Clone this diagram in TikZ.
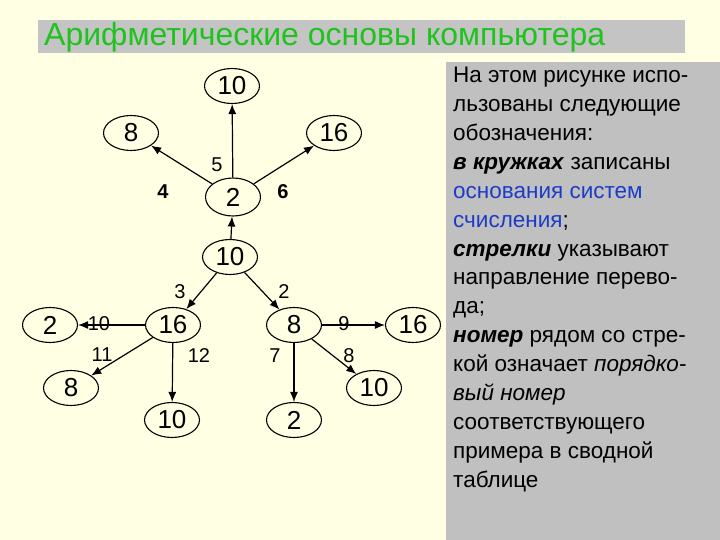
\documentclass[tikz,border=0pt]{standalone}
\usepackage{fontspec}
\setmainfont{Liberation Sans}
\usetikzlibrary{shapes.geometric,arrows.meta}
\definecolor{bgyellow}{HTML}{FFFFE3}
\definecolor{panelgray}{HTML}{C0C0C0}
\definecolor{titlegray}{HTML}{C4C4C4}
\definecolor{titlegreen}{HTML}{1EC31E}
\definecolor{basisblue}{HTML}{1C3CC8}
\tikzset{
  >={Latex[length=10pt,width=8pt]},
  base/.style={ellipse,draw,line width=1.1pt,minimum width=55pt,minimum height=35pt,
    inner sep=0pt,font=\fontsize{26}{26}\selectfont},
  num/.style={inner sep=0pt,font=\fontsize{20}{20}\selectfont},
}

\begin{document}
\begin{tikzpicture}[x=1pt,y=-1pt]
    % page and panels
    \fill[bgyellow] (0,0) rectangle (720,540);
    \useasboundingbox (0,0) rectangle (720,540);
    \fill[titlegray] (38,20) rectangle (685,53);
    \fill[panelgray] (446,62) rectangle (720,540);
    \node[anchor=base west,inner sep=0pt,text=titlegreen,font=\fontsize{32}{32}\selectfont]
      (title) at (44,46) {Арифметические основы компьютера};

    % bases
    \node[base] (top10) at (232,86) {10};
    \node[base] (up8) at (131,133) {8};
    \node[base] (up16) at (334,133) {16};
    \node[base,minimum height=38pt] (b2) at (233,197) {2};
    \node[base] (b10) at (230,257) {10};
    \node[base] (b16) at (173,325) {16};
    \node[base] (b8) at (294,325) {8};
    \node[base] (far2) at (50,325) {2};
    \node[base] (far16) at (413,325) {16};
    \node[base] (low8) at (71,388) {8};
    \node[base] (low10) at (172,420) {10};
    \node[base] (low2) at (294,420) {2};
    \node[base] (rt10) at (374,388) {10};

    % translations
    \begin{scope}[->,line width=1.2pt]
      \draw (b2) -- (top10);
      \draw (b2) -- (up8);
      \draw (b2) -- (up16);
      \draw (b10) -- (b2);
      \draw (b10) -- (b16);
      \draw (b10) -- (b8);
      \draw (b16) -- (far2);
      \draw (b16) -- (low8);
      \draw (b16) -- (low10);
      \draw (b8) -- (low2);
      \draw (b8) -- (far16);
      \draw (b8) -- (rt10);
    \end{scope}

    % example numbers
    \node[num] (n5) at (217,165) {5};
    \node[num,font=\fontsize{20}{20}\bfseries] (n4) at (163,192) {4};
    \node[num,font=\fontsize{20}{20}\bfseries] (n6) at (283,192) {6};
    \node[num] (n3) at (180,292) {3};
    \node[num] (n2) at (284,292) {2};
    \node[num] (n10) at (99,324) {10};
    \node[num] (n9) at (344,324) {9};
    \node[num] (n11) at (102,355) {11};
    \node[num] (n12) at (199,356) {12};
    \node[num] (n7) at (275,356) {7};
    \node[num] (n8) at (349,356) {8};

    % legend
    \node[anchor=north west,inner sep=0pt,align=left,
      font=\fontsize{22.5}{28.9}\selectfont] (legend) at (453,67)
      {На этом рисунке испо-\\
       льзованы следующие\\
       обозначения:\\
       \textbf{\textit{в кружках}} записаны\\
       \textcolor{basisblue}{основания систем}\\
       \textcolor{basisblue}{счисления};\\
       \textbf{\textit{стрелки}} указывают\\
       направление перево-\\
       да;\\
       \textbf{\textit{номер}} рядом со стре-\\
       кой означает \textit{порядко-}\\
       \textit{вый номер}\\
       соответствующего\\
       примера в сводной\\
       таблице};
\end{tikzpicture}
\end{document}
